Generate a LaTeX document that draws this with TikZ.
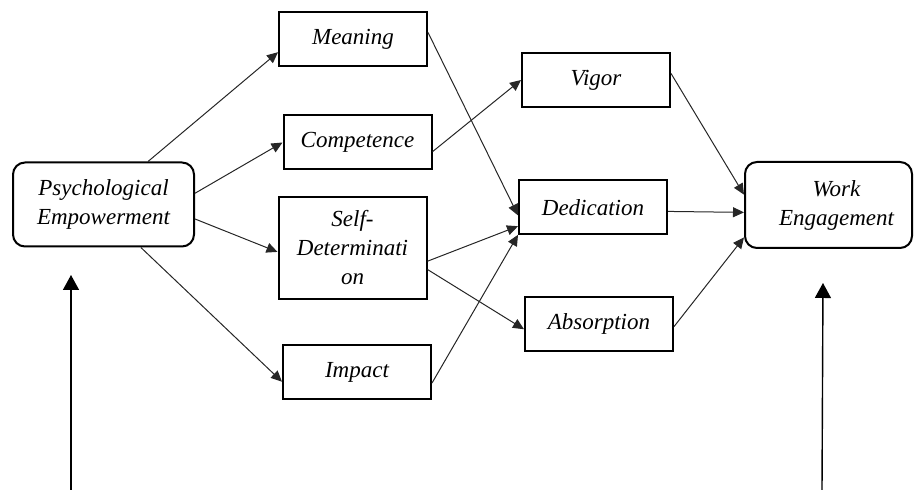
\documentclass[tikz,border=0pt]{standalone}
\usepackage{fontspec}
\setmainfont{Liberation Serif}
\usetikzlibrary{arrows.meta}
\tikzset{
  mainbox/.style={draw=black, line width=1pt, rounded corners=6pt, minimum width=90.5pt, minimum height=42pt, align=center, inner sep=1pt, font=\itshape\fontsize{11.5}{14.5}\selectfont},
  dimbox/.style={draw=black, line width=1pt, minimum width=74pt, minimum height=27pt, align=center, inner sep=1pt, font=\itshape\fontsize{11.5}{14.5}\selectfont},
  link/.style={->, line width=0.5pt, draw=black!85},
  bigarrow/.style={-{Triangle[length=7.5pt,width=8pt]}, line width=0.7pt}
}

\begin{document}
\begin{tikzpicture}[x=0.5pt, y=-0.5pt, >={Triangle[length=5.5pt,width=5pt]}]
  \useasboundingbox (0,0) rectangle (917,490);
  \node[mainbox] (pe) at (103.5,204.5) {Psychological\\Empowerment};
  \node[dimbox] (meaning) at (353,39) {Meaning};
  \node[dimbox] (competence) at (357.5,142.5) {Competence};
  \node[dimbox, minimum height=51pt] (selfdet) at (352.5,248) {Self-\\Determinati\\on};
  \node[dimbox] (impact) at (357,372.5) {Impact};
  \node[dimbox] (vigor) at (596,80) {Vigor};
  \node[dimbox] (dedication) at (593,207.5) {Dedication};
  \node[dimbox] (absorption) at (599,324) {Absorption};
  \node[mainbox, minimum width=83.5pt, minimum height=43pt, text width=78pt] (we) at (828.5,205) {\hspace*{8pt}Work\\\hspace*{8pt}Engagement};
  % empowerment to its four parts
  \draw[link] (pe.44) -- (meaning.190);
  \draw[link] (pe.7) -- (competence.west);
  \draw[link] (pe.-9) -- (selfdet.183);
  \draw[link] (pe.-49) -- (impact.187);
  % parts to engagement dimensions
  \draw[link] (meaning.5) -- (dedication.186);
  \draw[link] (competence.-7) -- (vigor.west);
  \draw[link] (selfdet.-10) -- (dedication.194);
  \draw[link] (selfdet.-16) -- (absorption.184);
  \draw[link] (impact.-8) -- (dedication.200);
  % dimensions to work engagement
  \draw[link] (vigor.5) -- (we.173);
  \draw[link] (dedication.-3) -- (we.185);
  \draw[link] (absorption.-2) -- (we.201);
  % arrows from below
  \coordinate (lfoot) at (71,490);
  \coordinate (ltip) at (71,275);
  \coordinate (rfoot) at (822,490);
  \coordinate (rtip) at (823,283);
  \draw[bigarrow] (lfoot) -- (ltip);
  \draw[bigarrow] (rfoot) -- (rtip);
\end{tikzpicture}
\end{document}
